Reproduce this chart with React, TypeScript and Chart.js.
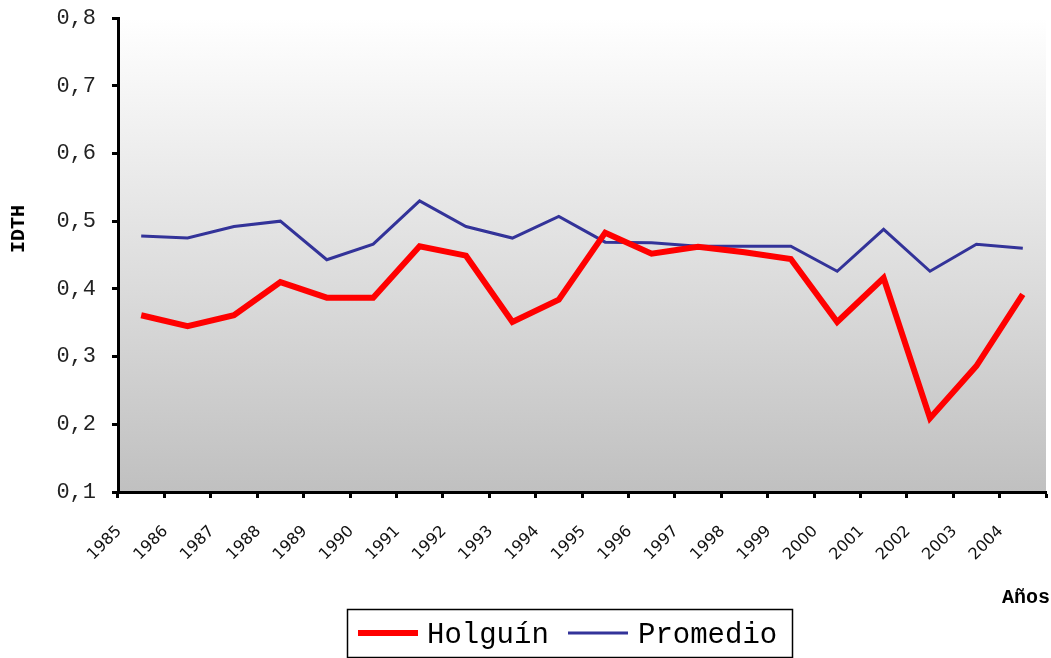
import React, { useEffect, useRef } from "react";
import { Chart, registerables } from "chart.js";

Chart.register(...registerables);

const years = ["1985","1986","1987","1988","1989","1990","1991","1992","1993","1994","1995","1996","1997","1998","1999","2000","2001","2002","2003","2004"];
const holguin = [0.361,0.345,0.361,0.410,0.387,0.387,0.463,0.449,0.351,0.384,0.483,0.452,0.462,0.454,0.444,0.351,0.416,0.209,0.286,0.392];
const promedio = [0.478,0.475,0.492,0.500,0.443,0.466,0.530,0.492,0.475,0.507,0.469,0.468,0.463,0.463,0.463,0.426,0.488,0.426,0.466,0.460];
const yMin = 0.1;
const yMax = 0.8;
const yStep = 0.1;
const yTitle = "IDTH";
const xTitle = "Años";
const seriesNames = ["Holguín", "Promedio"];

const MONO = "'Liberation Mono', 'Courier New', monospace";

function zeroPadding(scale: any) {
  scale.paddingLeft = 0;
  scale.paddingRight = 0;
  scale.paddingTop = 0;
  scale.paddingBottom = 0;
}

export default function App() {
  const ref = useRef<HTMLCanvasElement>(null);

  useEffect(() => {
    if (!ref.current) return;

    const bgPlugin = {
      id: "bgGradient",
      beforeDraw(chart: any) {
        const { ctx, chartArea } = chart;
        if (!chartArea) return;
        const g = ctx.createLinearGradient(0, chartArea.top, 0, chartArea.bottom);
        g.addColorStop(0, "#ffffff");
        g.addColorStop(1, "#c0c0c0");
        ctx.save();
        ctx.fillStyle = g;
        ctx.fillRect(chartArea.left, chartArea.top, chartArea.right - chartArea.left, chartArea.bottom - chartArea.top);
        ctx.restore();
      },
    };

    const decoPlugin = {
      id: "deco",
      afterDraw(chart: any) {
        const { ctx } = chart;
        ctx.save();
        ctx.fillStyle = "#000";
        ctx.font = `bold 20px ${MONO}`;
        ctx.textAlign = "center";
        ctx.textBaseline = "middle";
        ctx.save();
        ctx.translate(19, 229);
        ctx.rotate(-Math.PI / 2);
        ctx.fillText(yTitle, 0, 0);
        ctx.restore();
        ctx.textAlign = "right";
        ctx.fillText(xTitle, 1050, 598);

        ctx.lineWidth = 1.5;
        ctx.strokeStyle = "#000";
        ctx.strokeRect(347.5, 609.5, 445, 48);
        const items = chart.data.datasets;
        const lineX = [358, 568];
        const textX = [427, 638];
        ctx.font = `29px ${MONO}`;
        ctx.textAlign = "left";
        ctx.textBaseline = "middle";
        items.forEach((ds: any, i: number) => {
          ctx.beginPath();
          ctx.strokeStyle = ds.borderColor;
          ctx.lineWidth = ds.borderWidth;
          ctx.moveTo(lineX[i], 633);
          ctx.lineTo(lineX[i] + 60, 633);
          ctx.stroke();
          ctx.fillStyle = "#000";
          ctx.fillText(ds.label, textX[i], 635);
        });
        ctx.restore();
      },
    };

    const chart = new Chart(ref.current, {
      type: "line",
      data: {
        labels: years,
        datasets: [
          {
            label: seriesNames[0],
            data: holguin,
            borderColor: "#ff0000",
            borderWidth: 6,
            pointRadius: 0,
            tension: 0,
            fill: false,
          },
          {
            label: seriesNames[1],
            data: promedio,
            borderColor: "#333399",
            borderWidth: 3,
            pointRadius: 0,
            tension: 0,
            fill: false,
          },
        ],
      },
      options: {
        animation: false,
        responsive: false,
        maintainAspectRatio: false,
        layout: { padding: { top: 18, right: 5, left: 0, bottom: 0 } },
        plugins: {
          legend: { display: false },
          title: { display: false },
          tooltip: { enabled: false },
        },
        scales: {
          x: {
            type: "category",
            offset: true,
            grid: {
              offset: true,
              drawOnChartArea: false,
              drawTicks: true,
              tickLength: 6,
              tickWidth: 3,
              tickColor: "#000",
            },
            border: { display: true, color: "#000", width: 3 },
            ticks: {
              autoSkip: false,
              minRotation: 45,
              maxRotation: 45,
              labelOffset: -22,
              padding: 24,
              color: "#111",
              font: { family: "'DejaVu Sans', Verdana, sans-serif", size: 16 },
            },
            afterFit(scale: any) {
              scale.height = 166;
              zeroPadding(scale);
            },
          },
          y: {
            min: yMin,
            max: yMax,
            grid: {
              drawOnChartArea: false,
              drawTicks: true,
              tickLength: 6,
              tickWidth: 3,
              tickColor: "#000",
            },
            border: { display: true, color: "#000", width: 3 },
            ticks: {
              stepSize: yStep,
              padding: 16,
              color: "#222",
              font: { family: MONO, size: 22 },
              callback: (v: any) => Number(v).toFixed(1).replace(".", ","),
            },
            afterFit(scale: any) {
              scale.width = 118;
              zeroPadding(scale);
            },
          },
        },
      },
      plugins: [bgPlugin, decoPlugin],
    });

    return () => chart.destroy();
  }, []);

  return (
    <div style={{ position: "fixed", left: 0, top: 0, width: 1051, height: 658, background: "#fff" }}>
      <canvas ref={ref} width={1051} height={658} style={{ display: "block" }} />
    </div>
  );
}
